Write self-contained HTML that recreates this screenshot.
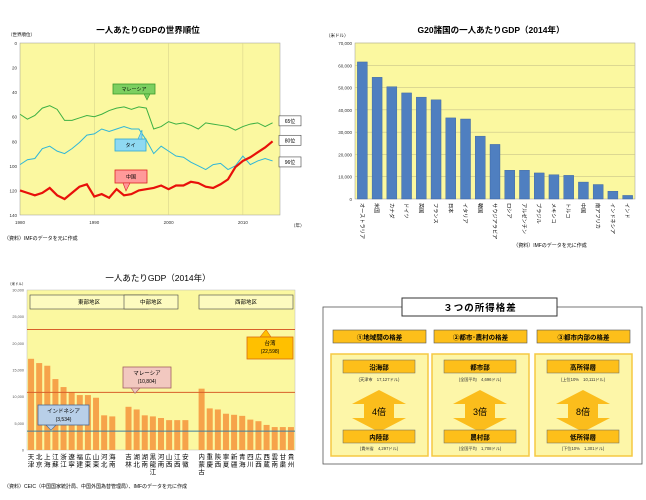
<!DOCTYPE html>
<html><head><meta charset="utf-8">
<style>
html,body{margin:0;padding:0;background:#fff;}
svg{display:block;font-family:"Liberation Sans","Noto Sans CJK JP",sans-serif;}
</style></head>
<body>
<svg id="s" width="646" height="500" viewBox="0 0 646 500" xmlns="http://www.w3.org/2000/svg">
<!-- Chart 1 -->
<g id="c1">
<text x="148" y="33" font-size="8.5" font-weight="bold" text-anchor="middle">一人あたりGDPの世界順位</text>
<text x="8" y="36" font-size="4.5">（世界順位）</text>
<rect x="20" y="43" width="260" height="172" fill="#fbf8a0" stroke="#999" stroke-width="0.5"/>
<g id="c1grid"></g><g id="c1lines"></g>
<text x="291" y="227" font-size="4.5">（年）</text>
<text x="4" y="240" font-size="5">（資料）IMFのデータを元に作成</text>
</g>
<!-- Chart 2 -->
<g id="c2">
<text x="491" y="33" font-size="8.5" font-weight="bold" text-anchor="middle">G20諸国の一人あたりGDP（2014年）</text>
<text x="326" y="37" font-size="4.5">（米ドル）</text>
<rect x="355" y="43" width="280" height="156" fill="#fbf8a0" stroke="#999" stroke-width="0.5"/>
<g id="c2g"></g>
<text x="550" y="247" font-size="5" text-anchor="middle">（資料）IMFのデータを元に作成</text>
</g>
<!-- Chart 3 -->
<g id="c3">
<text x="158" y="281" font-size="8.5" text-anchor="middle">一人あたりGDP（2014年）</text>
<text x="8" y="285" font-size="3.5">（米ドル）</text>
<rect x="27" y="290" width="268" height="160" fill="#fbf8a0" stroke="#bbb" stroke-width="0.5"/>
<g id="c3g"></g>
<text x="4" y="488" font-size="5">（資料）CEIC（中国国家統計局、中国外国為替管理局）、IMFのデータを元に作成</text>
</g>
<!-- Panel 4 -->
<g>
<rect x="323" y="307" width="319" height="157" fill="#fff" stroke="#555" stroke-width="0.8"/>
<rect x="402" y="298" width="155" height="18" fill="#fff" stroke="#333" stroke-width="1"/>
<text x="480" y="311" font-size="9.5" font-weight="bold" text-anchor="middle" letter-spacing="1">３つの所得格差</text>
<g id="p4"></g>
</g>
</svg>
<script>
const NS="http://www.w3.org/2000/svg";
function mk(par,tag,attrs,txt){const e=document.createElementNS(NS,tag);for(const k in attrs)e.setAttribute(k,attrs[k]);if(txt!==undefined)e.textContent=txt;par.appendChild(e);return e;}

/* ---------- Chart 1 data ---------- */
const c1Years=[1980,1981,1982,1983,1984,1985,1986,1987,1988,1989,1990,1991,1992,1993,1994,1995,1996,1997,1998,1999,2000,2001,2002,2003,2004,2005,2006,2007,2008,2009,2010,2011,2012,2013,2014];
const c1Malaysia=[58,62,59,53,51,54,63,63,61,59,60,58,55,53,52,54,52,53,70,68,64,66,65,67,70,65,66,67,68,71,68,66,65,68,65];
const c1Thai=[99,95,94,86,84,88,90,86,81,75,74,70,72,70,68,70,70,79,90,84,88,92,93,97,100,103,99,98,103,100,92,99,96,94,96];
const c1China=[120,122,124,122,118,124,127,122,117,115,125,123,126,119,124,123,120,119,118,116,119,116,116,113,114,117,118,115,111,101,96,93,89,85,80];
const c1YTicks=[0,20,40,60,80,100,120,140];
const c1XTicks=[1980,1990,2000,2010];
const c1End=["65位","80位","96位"];
const c1x=y=>20+(y-1980)*(260/35);
const c1y=r=>43+r*(172/140);
(function(){
 const g=document.getElementById('c1grid');
 c1YTicks.forEach(t=>{
  const e=mk(g,'text',{x:17,y:c1y(t)+2,'font-size':4.5,'text-anchor':'end',fill:'#333'},t);
  
  
 });
 c1XTicks.forEach(t=>{
  if(t>1980){const l=mk(g,'line',{x1:c1x(t),x2:c1x(t),y1:43,y2:215,stroke:'#d8d48c','stroke-width':0.6});
  
  }
  const e=mk(g,'text',{x:c1x(t),y:224,'font-size':4.5,'text-anchor':'middle',fill:'#333'},t);
  
  
 });
 const lg=document.getElementById('c1lines');
 const series=[[c1Malaysia,'#3cb043',1,'malaysia-line'],[c1Thai,'#2fb6d8',1,'thailand-line'],[c1China,'#e8100a',2.2,'china-line']];
 series.forEach(s=>{
  const p=mk(lg,'polyline',{points:s[0].map((v,i)=>c1x(c1Years[i])+','+c1y(v)).join(' '),fill:'none',stroke:s[1],'stroke-width':s[2]});
  
  
 });
 // end labels
 const endVals=[c1Malaysia[34],c1China[34],c1Thai[34]];
 [ [c1y(endVals[0])-2,c1End[0],'malaysia-end-label'],[c1y(endVals[1])-1,c1End[1],'china-end-label'],[c1y(endVals[2])+1,c1End[2],'thailand-end-label']].forEach(a=>{
  const b=mk(lg,'g',{});
  
  
  mk(b,'rect',{x:279,y:a[0]-5,width:22,height:10,fill:'#fff',stroke:'#444','stroke-width':0.6});
  mk(b,'text',{x:290,y:a[0]+2,'font-size':5,'text-anchor':'middle'},a[1]);
 });
 // callouts
 const calls=[[113,84,42,10,'#7ccf60','#3a9a2a','マレーシア',[144,94,147,100,150,94],'malaysia-callout'],
  [115,139,31,12,'#8fd9f2','#2fa8d0','タイ',[138,139,142,130,142,139],'thailand-callout'],
  [115,170,32,13,'#ff9a9a','#d22','中国',[123,183,126,191,130,183],'china-callout']];
 calls.forEach(c=>{
  const b=mk(lg,'g',{});
  
  
  mk(b,'rect',{x:c[0],y:c[1],width:c[2],height:c[3],fill:c[4],stroke:c[5],'stroke-width':0.8});
  mk(b,'polygon',{points:c[7].join(' '),fill:c[4],stroke:c[5],'stroke-width':0.6});
  mk(b,'text',{x:c[0]+c[2]/2,y:c[1]+c[3]/2+2,'font-size':5,'text-anchor':'middle'},c[6]);
 });
})();

/* ---------- Chart 2 data ---------- */
const c2Countries=["オーストラリア","米国","カナダ","ドイツ","英国","フランス","日本","イタリア","韓国","サウジアラビア","ロシア","アルゼンチン","ブラジル","メキシコ","トルコ","中国","南アフリカ","インドネシア","インド"];
const c2Values=[61500,54600,50400,47600,45700,44500,36400,35900,28200,24500,12900,12900,11700,10900,10600,7600,6500,3500,1600];
const c2Ticks=[0,10000,20000,30000,40000,50000,60000,70000];
const c2y=v=>199-v*(156/70000);
const c2slot=280/19;
(function(){
 const g=document.getElementById('c2g');
 c2Ticks.forEach(t=>{
  if(t>0){const l=mk(g,'line',{x1:355,x2:635,y1:c2y(t),y2:c2y(t),stroke:'#c9c58a','stroke-width':0.6});
  
  }
  const e=mk(g,'text',{x:352,y:c2y(t)+2,'font-size':4.5,'text-anchor':'end',fill:'#333'},t.toLocaleString('en-US'));
  
  
 });
 c2Values.forEach((v,i)=>{
  const x=355+c2slot*(i+0.5);
  const r=mk(g,'rect',{x:x-5,y:c2y(v),width:10,height:199-c2y(v),fill:'#4f7fc0',stroke:'#37609a','stroke-width':0.4});
  
  
  const t=mk(g,'text',{x:x-2,y:203,'font-size':5.2,transform:`rotate(90 ${x-2} 203)`},c2Countries[i]);
  
  
 });
})();

/* ---------- Chart 3 data ---------- */
const c3East=["天津","北京","上海","江蘇","浙江","遼寧","福建","広東","山東","河北","海南"];
const c3EastV=[17100,16300,15800,13300,11800,10800,10300,10300,9800,6500,6300];
const c3Mid=["吉林","湖北","湖南","黒龍江","河南","山西","江西","安徽"];
const c3MidV=[8100,7600,6500,6300,6000,5600,5600,5600];
const c3West=["内蒙古","重慶","陝西","寧夏","新疆","青海","四川","広西","西蔵","雲南","甘粛","貴州"];
const c3WestV=[11500,7800,7600,6800,6600,6400,5700,5400,4700,4300,4300,4300];
const c3Ticks=[0,5000,10000,15000,20000,25000,30000];
const c3Refs=[22598,10804,3534];
const c3y=v=>450-v*(160/30000);
const c3slot=268/33;
(function(){
 const g=document.getElementById('c3g');
 c3Ticks.forEach(t=>{
  const e=mk(g,'text',{x:24,y:c3y(t)+1.5,'font-size':3.8,'text-anchor':'end',fill:'#555'},t.toLocaleString('en-US'));
  
  
 });
 const groups=[[c3East,c3EastV,0],[c3Mid,c3MidV,12],[c3West,c3WestV,21]];
 groups.forEach(gr=>{
  gr[1].forEach((v,i)=>{
   const x=27+c3slot*(gr[2]+i+0.5);
   const r=mk(g,'rect',{x:x-3,y:c3y(v),width:6,height:450-c3y(v),fill:'#f6a34a'});
   
   
   const name=gr[0][i];
   for(let k=0;k<name.length;k++){
    const t=mk(g,'text',{x:x,y:459+k*7.5,'font-size':6.5,'text-anchor':'middle'},name[k]);
    
    
   }
  });
 });
 // region boxes
 [[30,118,'東部地区','east-region-box'],[124,54,'中部地区','central-region-box'],[199,94,'西部地区','west-region-box']].forEach(b=>{
  const gg=mk(g,'g',{});
  
  
  mk(gg,'rect',{x:b[0],y:295,width:b[1],height:14,fill:'#fdfbbf',stroke:'#444','stroke-width':0.6});
  mk(gg,'text',{x:b[0]+b[1]/2,y:304,'font-size':5.5,'text-anchor':'middle'},b[2]);
 });
 // reference lines
 const refC=['#d8602a','#d8602a','#3f7fa0'];
 const refN=['taiwan-line','malaysia-line','indonesia-line'];
 c3Refs.forEach((v,i)=>{
  const l=mk(g,'line',{x1:27,x2:295,y1:c3y(v),y2:c3y(v),stroke:refC[i],'stroke-width':1});
  
  
 });
 const calls=[[247,337,46,22,'#ffc000','#d86a10','台湾','(22,598)',[260,337,266,c3y(c3Refs[0]),271,337],'taiwan-callout'],
  [123,367,48,21,'#f2c8c0','#a06060','マレーシア','(10,804)',[131,388,135,c3y(c3Refs[1])+1,140,388],'malaysia-callout'],
  [38,405,51,20,'#b8cfe8','#4a6a90','インドネシア','(3,534)',[46,425,51,c3y(c3Refs[2])-1,56,425],'indonesia-callout']];
 calls.forEach(c=>{
  const b=mk(g,'g',{});
  
  
  mk(b,'polygon',{points:c[8].join(' '),fill:c[4],stroke:c[5],'stroke-width':0.6});
  mk(b,'rect',{x:c[0],y:c[1],width:c[2],height:c[3],fill:c[4],stroke:c[5],'stroke-width':0.8});
  mk(b,'rect',{x:c[0]+1,y:c[1]+0.5,width:c[2]-2,height:2,fill:c[4]});
  mk(b,'text',{x:c[0]+c[2]/2,y:c[1]+8,'font-size':5.5,'text-anchor':'middle'},c[6]);
  mk(b,'text',{x:c[0]+c[2]/2,y:c[1]+16,'font-size':5,'text-anchor':'middle'},c[7]);
 });
})();

/* ---------- Panel 4 ---------- */
(function(){
 const g=document.getElementById('p4');
 const cols=[[333,'①地域間の格差','沿海部','(天津市　17,127ドル)','4倍','内陸部','(貴州省　4,297ドル)','regional-gap'],
  [434,'②都市･農村の格差','都市部','(全国平均　4,696ドル)','3倍','農村部','(全国平均　1,708ドル)','urban-rural-gap'],
  [537,'③都市内部の格差','高所得層','(上位10%　10,111ドル)','8倍','低所得層','(下位10%　1,301ドル)','intra-urban-gap']];
 cols.forEach(c=>{
  const x=c[0];
  const b=mk(g,'g',{});
  
  
  mk(b,'rect',{x:x,y:330,width:93,height:13,fill:'#fdbf1a',stroke:'#555','stroke-width':0.6});
  mk(b,'text',{x:x+46.5,y:339.5,'font-size':6.5,'font-weight':'bold','text-anchor':'middle'},c[1]);
  mk(b,'rect',{x:x-2,y:354,width:97,height:102,fill:'#fdf6a8',stroke:'#f5c842','stroke-width':1.5});
  mk(b,'rect',{x:x+10,y:360,width:72,height:13,fill:'#fdbf1a',stroke:'#666','stroke-width':0.5});
  mk(b,'text',{x:x+46,y:369.5,'font-size':6.5,'font-weight':'bold','text-anchor':'middle'},c[2]);
  mk(b,'text',{x:x+46,y:381,'font-size':4.2,'text-anchor':'middle',fill:'#333'},c[3]);
  const cx=x+46;
  mk(b,'polygon',{points:[cx,390,cx+27,404,cx+15,404,cx+15,418,cx+27,418,cx,432,cx-27,418,cx-15,418,cx-15,404,cx-27,404].join(' '),fill:'#fbbd1c'});
  mk(b,'text',{x:cx,y:415,'font-size':9,'text-anchor':'middle'},c[4]);
  mk(b,'rect',{x:x+10,y:430,width:72,height:13,fill:'#fdbf1a',stroke:'#666','stroke-width':0.5});
  mk(b,'text',{x:x+46,y:439.5,'font-size':6.5,'font-weight':'bold','text-anchor':'middle'},c[5]);
  mk(b,'text',{x:x+46,y:450,'font-size':4.2,'text-anchor':'middle',fill:'#333'},c[6]);
 });
})();
</script>
</body></html>
